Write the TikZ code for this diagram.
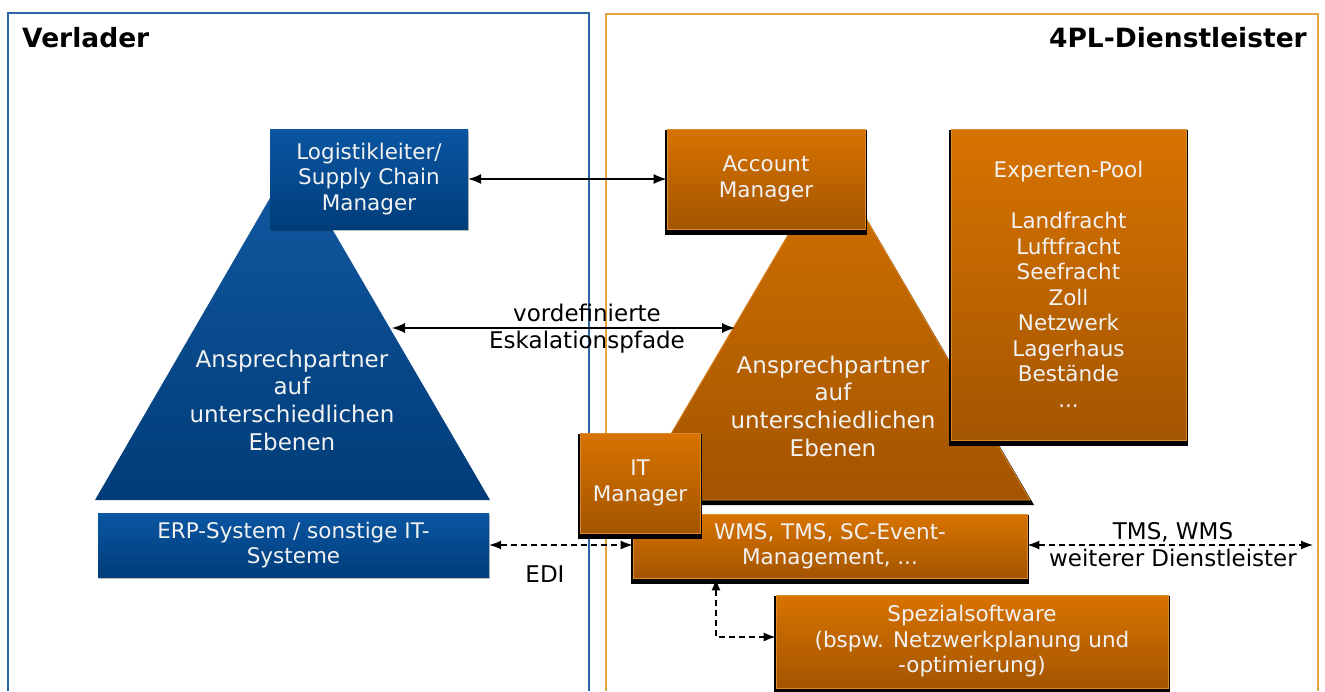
\documentclass[tikz,border=0pt]{standalone}
\usepackage{fontspec}
\setmainfont{DejaVu Sans}
\usetikzlibrary{arrows.meta,shadows}
\definecolor{bTop}{HTML}{0A56A2}
\definecolor{bBot}{HTML}{003D7A}
\definecolor{btTop}{HTML}{1259A2}
\definecolor{btBot}{HTML}{003C78}
\definecolor{oTop}{HTML}{D87300}
\definecolor{oBot}{HTML}{A35500}
\definecolor{otTop}{HTML}{D27200}
\definecolor{otBot}{HTML}{A35400}
\definecolor{frameB}{HTML}{2C67A8}
\definecolor{frameO}{HTML}{E8A43C}
\definecolor{oEdge}{HTML}{E0892A}
\definecolor{txtW}{HTML}{F2F2F2}
\tikzset{
  boxtext/.style={text=txtW, align=center, font=\fontsize{21.5}{25.5}\selectfont, inner sep=0pt},
  tritext/.style={text=txtW, align=center, font=\fontsize{23}{27.7}\selectfont, inner sep=0pt},
  bluebox/.style={boxtext, top color=bTop, bottom color=bBot, draw=none,
    drop shadow={shadow xshift=1pt, shadow yshift=-2pt, fill=black, opacity=0.25}},
  orangebox/.style={boxtext, top color=oTop, bottom color=oBot, draw=oEdge, line width=0.8pt,
    drop shadow={shadow xshift=0pt, shadow yshift=-3.5pt, fill=black, draw=black, line width=4.5pt, opacity=1}},
  blacktext/.style={text=black, align=center, font=\fontsize{23}{27}\selectfont, inner sep=0pt},
  headtext/.style={text=black, font=\fontsize{26.5}{30}\selectfont\bfseries, inner sep=0pt},
  solidarrow/.style={{Latex[length=13pt,width=10pt]}-{Latex[length=13pt,width=10pt]}, line width=1.3pt, black},
  dasharrow/.style={{Latex[length=12pt,width=9pt]}-{Latex[length=12pt,width=9pt]}, line width=1.2pt, black, dash pattern=on 6pt off 4pt},
}
\begin{document}
\begin{tikzpicture}[x=1pt,y=-1pt]
\useasboundingbox (0,0) rectangle (1325,691);
\fill[white] (0,0) rectangle (1325,691);
% frames
\draw[frameB, line width=1.6pt] (8,691) -- (8,13) -- (589,13) -- (589,691);
\draw[frameO, line width=1.6pt] (606,691) -- (606,14) -- (1318,14) -- (1318,691);
\node[headtext, anchor=base west] (verl) at (22,47) {Verlader};
\node[headtext, anchor=base east] (dl) at (1307,47) {4PL-Dienstleister};
% triangles
\shade[top color=btTop, bottom color=btBot] (292,160) -- (490,500) -- (95,500) -- cycle;
\fill[black] (834,163) -- (1034,505) -- (634,505) -- cycle;
\shade[top color=otTop, bottom color=otBot, draw=oEdge, line width=0.8pt] (832,160) -- (1030,500) -- (632,500) -- cycle;
\node[tritext] (triL) at (292,400) {Ansprechpartner\\auf\\unterschiedlichen\\Ebenen};
\node[tritext] (triR) at (833,406) {Ansprechpartner\\auf\\unterschiedlichen\\Ebenen};
% boxes
\node[bluebox, minimum width=198pt, minimum height=100pt] (log) at (369,179) {Logistikleiter/\\Supply Chain\\Manager};
\node[orangebox, minimum width=198pt, minimum height=100pt] (acc) at (766,179) {Account\\Manager};
\node[orangebox, minimum width=235pt, minimum height=311pt] (exp) at (1068.5,284.5) {Experten-Pool\\[25.5pt]Landfracht\\Luftfracht\\Seefracht\\Zoll\\Netzwerk\\Lagerhaus\\Bestände\\...};
\node[orangebox, minimum width=394pt, minimum height=64pt] (wms) at (830,546) {WMS, TMS, SC-Event-\\Management, ...};
\node[orangebox, minimum width=120pt, minimum height=100pt] (itm) at (640,483) {IT\\Manager};
\node[orangebox, minimum width=392pt, minimum height=93pt] (spez) at (972,641.5) {Spezialsoftware\\(bspw. Netzwerkplanung und\\-optimierung)};
\node[bluebox, minimum width=391pt, minimum height=64pt] (erp) at (293.5,545) {ERP-System / sonstige IT-\\Systeme};
% connectors
\draw[solidarrow] (log.east) -- (acc.west);
\coordinate (eskL) at (392,328);
\coordinate (eskR) at (735,328);
\draw[solidarrow] (eskL) -- (eskR);
\node[blacktext] (esk) at (587,329) {vordefinierte\\Eskalationspfade};
\draw[dasharrow] (erp.east) -- (wms.west |- erp.east);
\node[blacktext, anchor=base] (edi) at (545,582) {EDI};
\coordinate (ext) at (1313,545);
\draw[dasharrow] (wms.east |- ext) -- (ext);
\node[blacktext] (tms) at (1173,545) {TMS, WMS\\weiterer Dienstleister};
\coordinate (bend) at (716,637);
\draw[dasharrow] (bend |- wms.south) -- (bend) -- (spez.west |- bend);
\end{tikzpicture}
\end{document}
